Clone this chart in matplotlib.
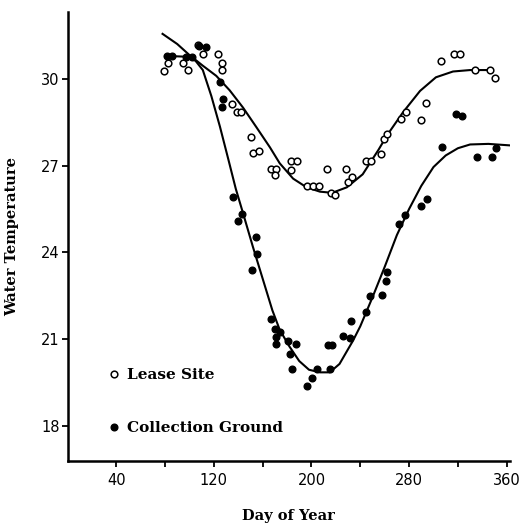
"""
Water temperature at the lease site and the collection ground over the year
"""
import matplotlib
matplotlib.use("Agg")
import matplotlib.pyplot as plt
from matplotlib.ticker import MultipleLocator
from matplotlib.lines import Line2D

# observed temperatures, lease site (open circles)
lease_day = [79.3, 82.8, 95.1, 98.7, 106.9, 111, 123.3, 126.5, 126.5, 135, 138.8, 142.3,
             150.6, 152.4, 157.3, 166.7, 170.8, 170.2, 183.3, 187.9, 183.3, 196.2, 201,
             206.3, 212.5, 215.7, 219.3, 228, 229.6, 232.9, 244.4, 248.5, 256.7, 259.4,
             262.1, 273.1, 277.2, 289.5, 293.6, 305.9, 317, 321.9, 334, 346, 350.3]
lease_temp = [30.27, 30.56, 30.56, 30.29, 31.16, 30.87, 30.85, 30.55, 30.29, 29.14, 28.86, 28.86,
              28.0, 27.42, 27.49, 26.89, 26.89, 26.69, 27.16, 27.16, 26.86, 26.29, 26.30,
              26.31, 26.87, 26.05, 25.97, 26.89, 26.45, 26.59, 27.16, 27.17, 27.41, 27.93,
              28.09, 28.6, 28.86, 28.56, 29.15, 30.6, 30.85, 30.85, 30.31, 30.31, 30.01]

# observed temperatures, collection ground (filled circles)
coll_day = [81.5, 85.6, 97.3, 102, 108.2, 113.4, 125.2, 127.9, 127.1, 135.5, 139.6, 143.1,
            151.4, 154.7, 155.2, 166.7, 170.2, 171, 171, 174.3, 181.1, 182.5, 183.9, 187.6,
            196.6, 200.2, 204.8, 213.9, 216.6, 215.3, 226.1, 231.6, 232.4, 244.7, 248,
            257.5, 261.1, 261.7, 272, 276.6, 290, 294.3, 307.2, 318.1, 323, 335.3, 347.9, 351.2]
coll_temp = [30.77, 30.79, 30.76, 30.74, 31.14, 31.08, 29.89, 29.29, 29.03, 25.91, 25.07, 25.33,
             23.4, 24.53, 23.93, 21.69, 21.37, 21.08, 20.83, 21.26, 20.94, 20.51, 19.96, 20.83,
             19.38, 19.67, 19.96, 20.79, 20.79, 19.99, 21.1, 21.06, 21.64, 21.94, 22.49,
             22.54, 23.0, 23.32, 25.0, 25.31, 25.6, 25.84, 27.63, 28.79, 28.7, 27.3, 27.28, 27.6]

# fitted curves
lease_curve_day = [78, 90, 100, 111, 122, 133, 144, 155, 166, 174, 185, 196, 207, 217,
                   229, 242, 255, 262, 275, 289, 302, 316, 330, 346]
lease_curve_temp = [31.55, 31.2, 30.82, 30.45, 30.1, 29.6, 29.0, 28.32, 27.63, 27.08, 26.55,
                    26.25, 26.1, 26.06, 26.25, 26.7, 27.55, 28.05, 28.84, 29.58, 30.05,
                    30.25, 30.3, 30.3]
coll_curve_day = [80, 98, 105, 111, 118, 125, 132, 138, 144, 152, 160, 168, 174, 182, 190,
                  198, 207, 215, 223, 234, 240, 250, 260, 270, 280, 290, 300, 310, 320, 330,
                  345, 362]
coll_curve_temp = [30.79, 30.76, 30.62, 30.3, 29.4, 28.35, 27.2, 26.2, 25.35, 24.2, 23.1, 22.0,
                   21.33, 20.75, 20.25, 19.95, 19.86, 19.86, 20.15, 20.95, 21.45, 22.45, 23.5,
                   24.6, 25.5, 26.3, 26.95, 27.35, 27.6, 27.73, 27.75, 27.7]

label_font = {"family": "DejaVu Serif", "weight": "bold", "size": 10.5}

fig = plt.figure(figsize=(5.31, 5.28), dpi=100)
ax = fig.add_axes([0.128, 0.127, 0.832, 0.850])

ax.plot(lease_curve_day, lease_curve_temp, color="black", lw=1.5)
ax.plot(coll_curve_day, coll_curve_temp, color="black", lw=1.5)
ax.plot(lease_day, lease_temp, "o", ms=4.8, mfc="white", mec="black", mew=1.1)
ax.plot(coll_day, coll_temp, "o", ms=4.8, mfc="black", mec="black")

ax.set_xlim(0.5, 362.5)
ax.set_ylim(16.8, 32.3)
ax.xaxis.set_minor_locator(MultipleLocator(40))
ax.set_xticks([40, 120, 200, 280, 360])
ax.yaxis.set_major_locator(MultipleLocator(3))

for side in ["top", "right"]:
    ax.spines[side].set_visible(False)
for side in ["left", "bottom"]:
    ax.spines[side].set_linewidth(1.8)

ax.tick_params(axis="both", which="both", direction="out", width=1.3, colors="black",
               labelsize=10.5)
ax.tick_params(axis="x", which="major", length=4, pad=5)
ax.tick_params(axis="x", which="minor", length=4)
ax.tick_params(axis="y", length=4, pad=2)

ax.set_xlabel("Day of Year", fontdict=label_font, labelpad=15)
ax.set_ylabel("Water Temperature", fontdict=label_font, labelpad=16)

handles = [
    Line2D([], [], ls="none", marker="o", ms=4.8, mfc="white", mec="black", mew=1.1),
    Line2D([], [], ls="none", marker="o", ms=4.8, mfc="black", mec="black"),
]
ax.legend(handles, ["Lease Site", "Collection Ground"], loc="lower left",
          bbox_to_anchor=(0.055, 0.027), frameon=False, labelspacing=2.56,
          handletextpad=0.4, handlelength=1.0,
          prop={"family": "DejaVu Serif", "weight": "bold", "size": 11})

fig.savefig("out.png", dpi=100)
